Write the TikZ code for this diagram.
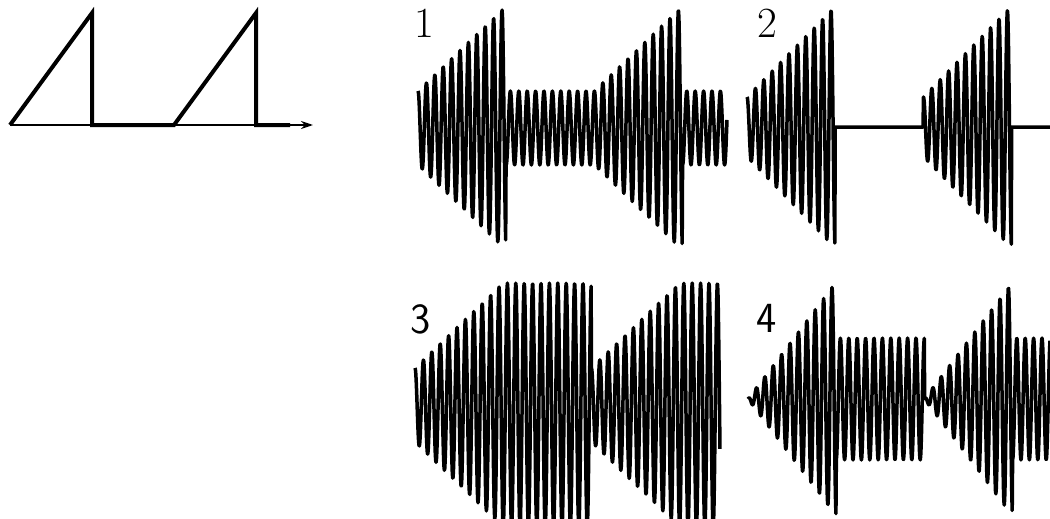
\documentclass[tikz,border=0pt]{standalone}
\usepackage{tikz}
\usetikzlibrary{calc}
\usetikzlibrary{arrows.meta}

\begin{document}
\begin{tikzpicture}[x=1pt, y=-1pt, >={Stealth[length=12pt, width=8pt]},
    wave/.style={line width=3.5pt, line join=round},
    env/.style={line width=4pt, line join=miter},
    num/.style={inner sep=0pt, anchor=north west, font=\fontsize{43}{50}\selectfont},
    declare function={rr(\t,\o)=mod(\t-\o,176.4)/88;
                      cr(\t,\o)=cos(42.857*mod(\t-\o,8.4));}]
  \useasboundingbox (0,0) rectangle (1050,519);
  % envelope sketch
  \coordinate (o) at (10,125);
  \coordinate (e) at (313,125);
  \coordinate (p1) at (92,13);
  \coordinate (q1) at (92,125);
  \coordinate (s2) at (174,125);
  \coordinate (p2) at (256,13);
  \coordinate (q2) at (256,125);
  \coordinate (r2) at (290,125);
  \draw[line width=1.5pt, ->] (o) -- (e);
  \draw[env] (o) -- (p1) -- (q1) -- (s2) -- (p2) -- (q2) -- (r2);
  % labels
  \node[num] (l1) at (414,9) {1};
  \node[num] (l2) at (757,9) {2};
  \node[num, font=\fontsize{43}{50}\selectfont\sffamily] (l3) at (410,304) {3};
  \node[num, font=\fontsize{43}{50}\selectfont\sffamily] (l4) at (756,304) {4};
  % waves
  \draw[wave] plot[domain=418:727, samples=780]
    (\x, {128 - (37 + 85*rr(\x,418)*(rr(\x,418)<1))*cr(\x,418)});
  \draw[wave] plot[domain=747:1050, samples=760]
    (\x, {127 - (30 + 91*rr(\x,747))*(rr(\x,747)<1)*cr(\x,747)});
  \draw[wave] plot[domain=415:720, samples=770]
    (\x, {405 - (122 - 85*(1-rr(\x,415))*(rr(\x,415)<1))*cr(\x,415)});
  \draw[wave] plot[domain=748:1050, samples=760]
    (\x, {399 - (61 + (117*rr(\x,748) - 61)*(rr(\x,748)<1))*cr(\x,748)});
\end{tikzpicture}
\end{document}
